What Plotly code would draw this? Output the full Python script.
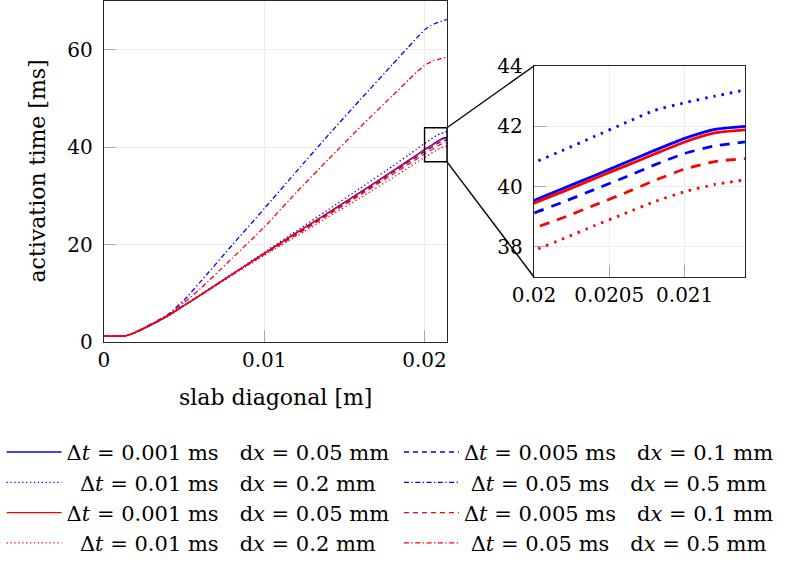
import plotly.graph_objects as go

# slab diagonal positions [m]
diag = [0.0, 0.001, 0.0014, 0.002, 0.003, 0.004, 0.005, 0.006, 0.008,
        0.010, 0.012, 0.014, 0.016, 0.018, 0.019, 0.0195, 0.020,
        0.0202, 0.0204, 0.0206, 0.0208, 0.0210, 0.0212, 0.0214]

# activation times [ms], blue set
blue_solid = [1.2, 1.2, 1.3, 2.0, 3.6, 5.4, 7.5, 9.6, 13.9, 18.2, 22.4, 26.6, 30.8, 35.1,
              37.3, 38.4, 39.54, 39.95, 40.36, 40.78, 41.2, 41.6, 41.9, 42.0]
blue_dash = [1.2, 1.2, 1.3, 2.0, 3.6, 5.4, 7.5, 9.6, 13.9, 18.1, 22.2, 26.4, 30.5, 34.8,
             36.95, 38.0, 39.12, 39.5, 39.9, 40.3, 40.72, 41.1, 41.35, 41.48]
blue_dot = [1.2, 1.2, 1.3, 2.1, 3.7, 5.5, 7.6, 9.7, 14.0, 18.4, 22.8, 27.2, 31.6, 36.1,
            38.4, 39.6, 40.79, 41.22, 41.66, 42.1, 42.53, 42.78, 43.0, 43.2]
blue_dashdot = [1.2, 1.2, 1.3, 2.1, 3.8, 5.7, 8.6, 12.3, 19.9, 27.4, 35.0, 42.5, 49.8, 57.0,
                60.6, 62.4, 64.1, 64.6, 65.0, 65.3, 65.6, 65.8, 66.0, 66.2]

# activation times [ms], red set
red_solid = [1.2, 1.2, 1.3, 2.0, 3.6, 5.4, 7.5, 9.6, 13.9, 18.2, 22.4, 26.5, 30.7, 35.0,
             37.2, 38.3, 39.45, 39.85, 40.26, 40.67, 41.08, 41.48, 41.78, 41.88]
red_dash = [1.2, 1.2, 1.3, 2.0, 3.6, 5.4, 7.5, 9.6, 13.8, 18.0, 22.0, 26.1, 30.2, 34.4,
            36.5, 37.55, 38.62, 38.98, 39.38, 39.78, 40.2, 40.58, 40.83, 40.93]
red_dot = [1.2, 1.2, 1.3, 2.0, 3.6, 5.3, 7.4, 9.5, 13.7, 17.8, 21.7, 25.7, 29.6, 33.7,
           35.8, 36.85, 37.88, 38.28, 38.7, 39.1, 39.5, 39.83, 40.07, 40.22]
red_dashdot = [1.2, 1.2, 1.3, 2.1, 3.7, 5.6, 8.1, 10.9, 17.2, 23.6, 30.7, 37.5, 44.2, 50.6,
               53.8, 55.4, 56.8, 57.2, 57.5, 57.8, 58.0, 58.2, 58.35, 58.5]

# legend labels
lab_001 = "Δ<i>t</i> = 0.001 ms\u2003d<i>x</i> = 0.05 mm"
lab_005 = "Δ<i>t</i> = 0.005 ms\u2003d<i>x</i> = 0.1 mm"
lab_01 = "\u2007Δ<i>t</i> = 0.01 ms\u2003d<i>x</i> = 0.2 mm"
lab_05 = "\u2008Δ<i>t</i> = 0.05 ms\u2003d<i>x</i> = 0.5 mm"

# ticks
main_xticks = [0, 0.01, 0.02]
main_xtext = ["0", "0.01", "0.02"]
main_yticks = [0, 20, 40, 60]
zoom_xticks = [0.02, 0.0205, 0.021]
zoom_xtext = ["0.02", "0.0205", "0.021"]
zoom_yticks = [38, 40, 42, 44]

BLUE = "#0000ff"
RED = "#ff0000"
FONT = "DejaVu Serif"
FS = 21

# (values, colour, main dash, zoom dash, label, legend)
series = [
    (blue_solid, BLUE, "solid", "solid", lab_001, "legend"),
    (blue_dot, BLUE, "1.3px,2.6px", "2.5px,6px", lab_01, "legend"),
    (red_solid, RED, "solid", "solid", lab_001, "legend"),
    (red_dot, RED, "1.3px,2.6px", "2.5px,6px", lab_01, "legend"),
    (blue_dash, BLUE, "5px,4px", "10px,8px", lab_005, "legend2"),
    (blue_dashdot, BLUE, "5px,2.5px,1.3px,2.5px", "10px,5px,2.5px,5px", lab_05, "legend2"),
    (red_dash, RED, "5px,4px", "10px,8px", lab_005, "legend2"),
    (red_dashdot, RED, "5px,2.5px,1.3px,2.5px", "10px,5px,2.5px,5px", lab_05, "legend2"),
]

main_x = [0.1316, 0.5658]
main_y = [0.3958, 0.998]
zoom_x = [0.6759, 0.9430]
zoom_y = [0.5106, 0.8834]
main_yrange = [0, 70]
zoom_xrange = [0.02, 0.0214]
zoom_yrange = [37, 44]

fig = go.Figure()

draw_order = [0, 4, 1, 5, 2, 6, 3, 7]
for i in draw_order:
    vals, col, dmain, dzoom, lab, leg = series[i]
    fig.add_trace(go.Scatter(
        x=diag, y=vals, mode="lines", name=lab, legend=leg,
        line=dict(color=col, width=1.3, dash=dmain, shape="spline", smoothing=0.5),
        xaxis="x", yaxis="y",
    ))
for i in draw_order:
    vals, col, dmain, dzoom, lab, leg = series[i]
    fig.add_trace(go.Scatter(
        x=diag, y=vals, mode="lines", showlegend=False,
        line=dict(color=col, width=2.8, dash=dzoom, shape="spline", smoothing=0.5),
        xaxis="x2", yaxis="y2",
    ))

axis_style = dict(
    ticks="inside", ticklen=12, tickwidth=1, tickcolor="#a8a8a8",
    showgrid=True, gridcolor="#ececec", gridwidth=1,
    showline=True, linecolor="#262626", linewidth=1.4, mirror=True,
    zeroline=False, tickfont=dict(size=20),
)

fig.update_layout(
    width=790, height=566,
    margin=dict(l=0, r=0, t=0, b=0, autoexpand=False),
    paper_bgcolor="white", plot_bgcolor="white",
    font=dict(family=FONT, size=FS, color="black"),
    xaxis=dict(domain=main_x, range=[0, 0.0214], tickvals=main_xticks, ticktext=main_xtext,
               anchor="y", **axis_style),
    yaxis=dict(domain=main_y, range=main_yrange, tickvals=main_yticks,
               anchor="x", ticklabelstandoff=6, **axis_style),
    xaxis2=dict(domain=zoom_x, range=zoom_xrange, tickvals=zoom_xticks, ticktext=zoom_xtext,
                anchor="y2", **axis_style),
    yaxis2=dict(domain=zoom_y, range=zoom_yrange, tickvals=zoom_yticks,
                anchor="x2", ticklabelstandoff=6, **axis_style),
    legend=dict(x=0.002, y=0.237, xanchor="left", yanchor="top", itemwidth=55,
                bgcolor="rgba(0,0,0,0)", font=dict(size=FS), tracegroupgap=0),
    legend2=dict(x=0.505, y=0.237, xanchor="left", yanchor="top", itemwidth=55,
                 bgcolor="rgba(0,0,0,0)", font=dict(size=FS), tracegroupgap=0),
    annotations=[
        dict(text="activation time [ms]", xref="paper", yref="paper", x=38 / 790,
             y=(main_y[0] + main_y[1]) / 2, textangle=-90, showarrow=False,
             font=dict(size=22), xanchor="center", yanchor="middle"),
        dict(text="slab diagonal [m]", xref="paper", yref="paper",
             x=(main_x[0] + main_x[1]) / 2, y=1 - 397 / 566, showarrow=False,
             font=dict(size=22), xanchor="center", yanchor="middle"),
    ],
)

# zoom box and connector lines
def main_to_paper_y(v):
    return main_y[0] + (v - main_yrange[0]) / (main_yrange[1] - main_yrange[0]) * (main_y[1] - main_y[0])

fig.add_shape(type="rect", xref="x", yref="y", x0=zoom_xrange[0], x1=zoom_xrange[1],
              y0=zoom_yrange[0], y1=zoom_yrange[1], line=dict(color="black", width=1.4))
fig.add_shape(type="line", xref="paper", yref="paper", x0=main_x[1], y0=main_to_paper_y(zoom_yrange[1]),
              x1=zoom_x[0], y1=zoom_y[1], line=dict(color="black", width=1.4))
fig.add_shape(type="line", xref="paper", yref="paper", x0=main_x[1], y0=main_to_paper_y(zoom_yrange[0]),
              x1=zoom_x[0], y1=zoom_y[0], line=dict(color="black", width=1.4))

# page has a default body margin; drop it so the figure sits at the window corner
fig.write_html("out.html", config={"displayModeBar": False},
               post_script="document.body.style.margin = '0';")
